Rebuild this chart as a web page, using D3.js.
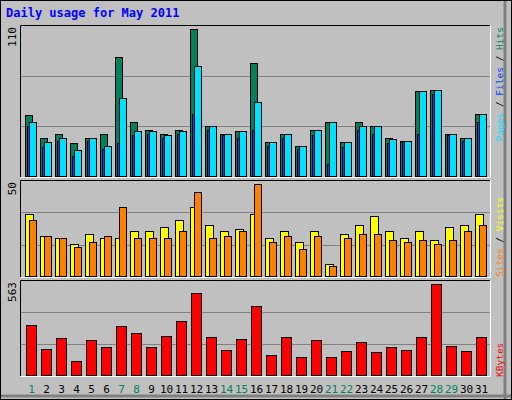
<!DOCTYPE html>
<html><head><meta charset="utf-8">
<script src="https://cdn.jsdelivr.net/npm/d3@7"></script>
<style>body{margin:0;background:#fff}svg{display:block}</style>
</head><body><svg id="c" width="512" height="400"></svg>
<script>
const days = d3.range(1,32);
const weekend = [1,7,8,14,15,21,22,28,29];
const hits  = [46,29,32,25,29,32,89,41,35,32,35,110,38,32,34,85,26,32,23,35,41,26,41,38,29,27,64,65,32,29,47];
const files = [41,26,29,20,29,23,59,34,34,31,34,83,38,32,34,56,26,32,23,35,41,26,38,38,28,27,64,65,32,29,47];
const pages = [38,22,27,16,27,21,25,31,32,29,32,47,35,31,29,35,23,29,21,31,10,22,35,32,25,27,32,62,31,27,41];
const sites = [34,22,21,18,23,21,21,25,25,27,31,38,28,25,26,34,21,25,19,25,7,23,28,33,25,21,25,20,27,28,34];
const visits= [31,22,21,16,19,22,38,21,21,21,25,46,21,22,25,50,19,22,15,22,6,21,23,23,20,19,20,18,20,25,28];
const kbytes= [316,164,236,94,224,175,304,261,175,248,335,507,242,162,230,427,131,242,119,218,119,156,211,150,181,162,242,563,187,156,242];

const svg = d3.select("#c");
svg.append("rect").attr("x",0).attr("y",0).attr("width",512).attr("height",400).attr("fill","#c0c0c0");
svg.append("path").attr("d","M0.5,399.5V0.5H511.5").attr("fill","none").attr("stroke","#fff");
svg.append("path").attr("d","M505,1V399").attr("stroke","#808080").attr("stroke-width",3);
svg.append("path").attr("d","M1,396H511").attr("stroke","#808080").attr("stroke-width",3);
svg.append("rect").attr("x",0.5).attr("y",0.5).attr("width",511).attr("height",399).attr("fill","none").attr("stroke","#000");

svg.append("text").attr("x",6).attr("y",17).text("Daily usage for May 2011")
  .attr("font-family","DejaVu Sans Mono").attr("font-weight","bold").attr("font-size",12).attr("fill","#0000ff");

const x = d3.scaleBand().domain(days).range([21,486]).paddingInner(0);

function panel(top,bottom,dataTop,max,label){
  svg.append("path").attr("d",`M20.5,${bottom}V${top+0.5}H490.5`).attr("fill","none").attr("stroke","#000");
  svg.append("path").attr("d",`M20.5,${bottom+0.5}H490.5V${top}`).attr("fill","none").attr("stroke","#fff");
  const h = bottom-top;
  [1/3,2/3].forEach(f=>svg.append("line").attr("x1",21).attr("x2",490)
    .attr("y1",Math.round(top+h*f)+0.5).attr("y2",Math.round(top+h*f)+0.5).attr("stroke","#808080"));
  svg.append("text").attr("transform",`translate(16,${top+2}) rotate(-90)`).attr("text-anchor","end")
    .attr("font-family","DejaVu Sans Mono").attr("font-size",11).text(label);
  return d3.scaleLinear().domain([0,max]).range([bottom,dataTop]);
}
const y1 = panel(25,177,29.3,110,"110");
const y2 = panel(180,277,184.3,50,"50");
const y3 = panel(280,376,284.3,563,"563");

function bars(data,y,off,w,color){
  svg.append("g").selectAll("rect").data(data).join("rect")
    .attr("x",(d,i)=>x(days[i])+off+0.5).attr("width",w)
    .attr("y",d=>Math.round(y(d))+0.5).attr("height",d=>Math.max(0,y.range()[0]-Math.round(y(d))-1))
    .attr("fill",color).attr("stroke","#000");
}
bars(hits,y1,4,7,"#00805c");
bars(pages,y1,6,7,"#0040ff");
bars(files,y1,8,7,"#00e0ff");
bars(sites,y2,4,8,"#ffff00");
bars(visits,y2,8,7,"#ff8000");
bars(kbytes,y3,5,10,"#ff0000");

svg.append("g").selectAll("text").data(days).join("text")
  .attr("x",d=>x(d)+x.bandwidth()/2+3).attr("y",393).attr("text-anchor","middle")
  .attr("font-family","DejaVu Sans Mono").attr("font-size",11)
  .attr("fill",d=>weekend.includes(d)?"#00805c":"#000").text(d=>d);

function sideLabel(y,anchor,parts){
  const t = svg.append("text").attr("transform",`translate(503,${y}) rotate(-90)`).attr("text-anchor",anchor)
    .attr("font-family","DejaVu Sans Mono").attr("font-size",9.5);
  parts.forEach(p=>t.append("tspan").attr("fill",p[1]).text(p[0]));
}
sideLabel(27,"end",[["Pages","#00e0ff"],[" / ","#000"],["Files","#0040ff"],[" / ","#000"],["Hits","#00805c"]]);
sideLabel(277,"start",[["Sites","#ff8000"],[" / ","#000"],["Visits","#ffff00"]]);
sideLabel(377,"start",[["KBytes","#ff0000"]]);
</script></body></html>
